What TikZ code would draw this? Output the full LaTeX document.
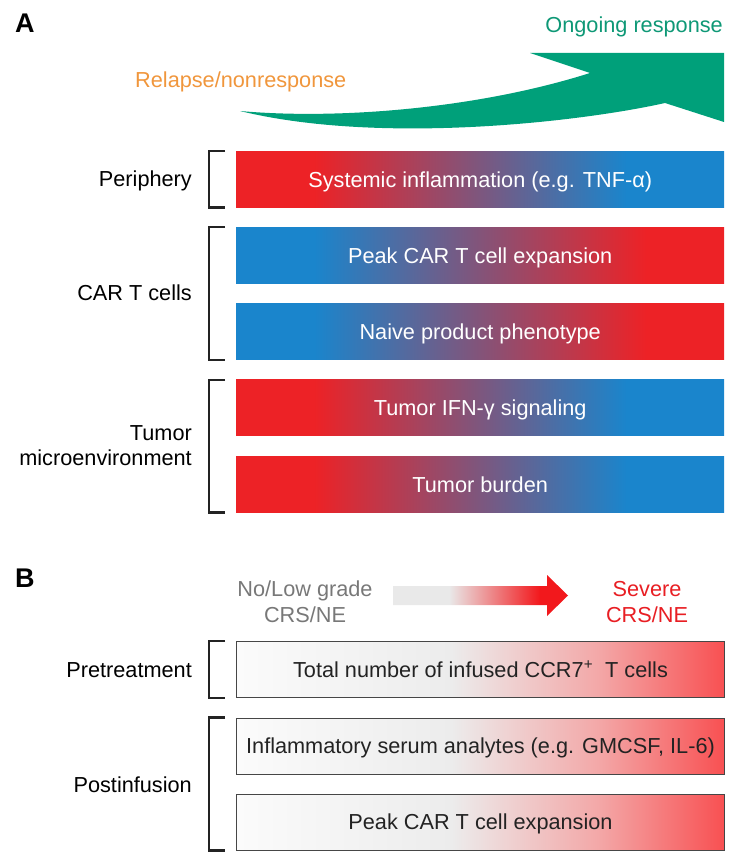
\documentclass[tikz,border=0pt]{standalone}
\usepackage{fontspec}
\setmainfont{Liberation Sans}
\definecolor{barred}{RGB}{237,34,38}
\definecolor{barblue}{RGB}{26,133,204}
\definecolor{arrgreen}{RGB}{0,160,122}
\definecolor{txtgreen}{RGB}{14,152,118}
\definecolor{txtorange}{RGB}{240,150,60}
\definecolor{txtgray}{RGB}{120,120,120}
\definecolor{txtred}{RGB}{232,30,35}
\definecolor{brkcol}{RGB}{35,35,35}
\definecolor{bw}{RGB}{251,251,251}
\definecolor{bg}{RGB}{236,236,236}
\definecolor{bp}{RGB}{243,168,168}
\definecolor{bR}{RGB}{248,80,82}
\definecolor{ag}{RGB}{233,233,233}
\definecolor{ar}{RGB}{242,24,28}
\definecolor{bordcol}{RGB}{70,70,70}
\definecolor{btxt}{RGB}{35,35,35}
\pgfdeclarehorizontalshading{redblue}{100bp}{color(0bp)=(barred); color(33bp)=(barred); color(65bp)=(barblue); color(100bp)=(barblue)}
\pgfdeclarehorizontalshading{bluered}{100bp}{color(0bp)=(barblue); color(33bp)=(barblue); color(67bp)=(barred); color(100bp)=(barred)}
\pgfdeclarehorizontalshading{whitered}{100bp}{color(0bp)=(bw); color(25bp)=(bw); color(47bp)=(bg); color(62bp)=(bp); color(75bp)=(bR); color(100bp)=(bR)}
\pgfdeclarehorizontalshading{arrowgrad}{100bp}{color(0bp)=(ag); color(41bp)=(ag); color(67bp)=(ar); color(100bp)=(ar)}
\newcommand\fsz{\fontsize{21.7}{26}\selectfont}
\tikzset{
  abar/.style={anchor=north west, minimum width=488pt, minimum height=56pt, inner sep=0pt,
    text height=15.6pt, text depth=0pt, text=white, font=\fsz},
  bbar/.style={anchor=north west, minimum width=488pt, minimum height=56pt, inner sep=0pt,
    text height=15.6pt, text depth=0pt, text=btxt, font=\fsz, draw=bordcol, line width=1pt, shading=whitered},
  brk/.style={draw=brkcol, line width=2.4pt, line join=miter},
  glabel/.style={anchor=base east, inner sep=0pt, font=\fsz, text=black},
  plabel/.style={anchor=base west, inner sep=0pt, font=\fontsize{27}{27}\selectfont\bfseries},
  htext/.style={anchor=base, inner sep=0pt, font=\fsz}
}
\begin{document}
\begin{tikzpicture}[x=1pt,y=-1pt]
\useasboundingbox (0,0) rectangle (743,867);
% ---------- Panel A ----------
\node[plabel] (pA) at (15,33) {A};
\node[htext, anchor=base east, text=txtgreen] (ongo) at (723,33) {Ongoing response};
\node[htext, anchor=base west, text=txtorange] (relap) at (135,88) {Relapse/nonresponse};
\fill[arrgreen] (240,111) .. controls (340,120) and (480,108) .. (590,73)
  -- (530,53) -- (724,53) -- (724,122) -- (665,103)
  .. controls (580,122) and (380,145) .. (240,111) -- cycle;

\node[abar, shading=redblue] (a1) at (236,151) {Systemic inflammation (e.g. TNF-α)};
\node[abar, shading=bluered] (a2) at (236,227.25) {Peak CAR T cell expansion};
\node[abar, shading=bluered] (a3) at (236,303.5) {Naive product phenotype};
\node[abar, shading=redblue] (a4) at (236,379.75) {Tumor IFN-γ signaling};
\node[abar, shading=redblue] (a5) at (236,456) {Tumor burden};

\draw[brk] ([xshift=-11pt]a1.north west) -- ++(-16pt,0) |- ([xshift=-11pt]a1.south west);
\draw[brk] ([xshift=-11pt]a2.north west) -- ++(-16pt,0) |- ([xshift=-11pt]a3.south west);
\draw[brk] ([xshift=-11pt]a4.north west) -- ++(-16pt,0) |- ([xshift=-11pt]a5.south west);

\node[glabel] (lper) at (192,186) {Periphery};
\node[glabel] (lcar) at (192,300.5) {CAR T cells};
\node[glabel] (ltum) at (192,440) {Tumor};
\node[glabel] (lmic) at (192,465) {microenvironment};

% ---------- Panel B ----------
\node[plabel] (pB) at (15,587) {B};
\node[htext, text=txtgray] (nolow1) at (305,596) {No/Low grade};
\node[htext, text=txtgray] (nolow2) at (305,622) {CRS/NE};
\node[htext, text=txtred] (sev1) at (647,596) {Severe};
\node[htext, text=txtred] (sev2) at (647,622) {CRS/NE};
\shade[shading=arrowgrad] (393,586) -- (547,586) -- (547,575) -- (568,595.5)
  -- (547,616) -- (547,605) -- (393,605) -- cycle;

\node[bbar] (b1) at (236,641) {Total number of infused CCR7\textsuperscript{+}\ \ T cells};
\node[bbar] (b2) at (236,717.5) {Inflammatory serum analytes (e.g. GMCSF, IL-6)};
\node[bbar] (b3) at (236,793.5) {Peak CAR T cell expansion};

\draw[brk] ([xshift=-11pt]b1.north west) -- ++(-16pt,0) |- ([xshift=-11pt]b1.south west);
\draw[brk] ([xshift=-11pt]b2.north west) -- ++(-16pt,0) |- ([xshift=-11pt]b3.south west);

\node[glabel] (lpre) at (192,677) {Pretreatment};
\node[glabel] (lpost) at (192,792) {Postinfusion};
\end{tikzpicture}
\end{document}
